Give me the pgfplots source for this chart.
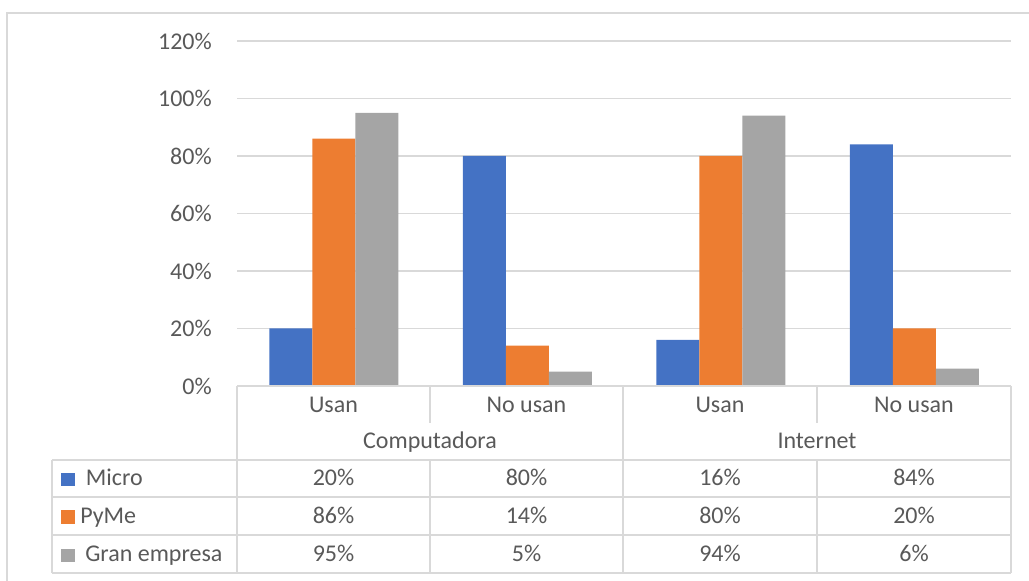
\documentclass[border=0pt]{standalone}
\usepackage{pgfplots}
\pgfplotsset{compat=1.18}
\usepackage{fontspec}
\setmainfont{Carlito}

\definecolor{micro}{HTML}{4472C4}
\definecolor{pyme}{HTML}{ED7D31}
\definecolor{gran}{HTML}{A5A5A5}
\definecolor{txt}{HTML}{595959}
\definecolor{rule}{HTML}{D9D9D9}
\newcommand\lbl{\fontsize{18}{21.6}\selectfont}

\begin{document}
\begin{tikzpicture}
\useasboundingbox (0,0) rectangle (771.75pt,435.75pt);

\begin{axis}[
  at={(177.75pt,146.25pt)}, anchor=south west,
  scale only axis, width=580.5pt, height=258.75pt,
  xmin=0, xmax=4, ymin=0, ymax=120,
  ybar=0pt, bar width=32.25pt,
  ytick={0,20,...,120},
  yticklabel={\pgfmathprintnumber{\tick}\%},
  xtick=\empty,
  axis line style={draw=none},
  major tick length=0pt,
  ymajorgrids, grid style={rule, line width=1.1pt},
  tick label style={font=\lbl, text=txt},
  yticklabel style={inner sep=0pt, xshift=-18.75pt},
  /pgf/number format/assume math mode=true,
  clip=false,
]
% Computadora (Usan, No usan), Internet (Usan, No usan)
\addplot[draw=none, fill=micro] coordinates {(0.5,20) (1.5,80) (2.5,16) (3.5,84)};
\addplot[draw=none, fill=pyme]  coordinates {(0.5,86) (1.5,14) (2.5,80) (3.5,20)};
\addplot[draw=none, fill=gran]  coordinates {(0.5,95) (1.5,5)  (2.5,94) (3.5,6)};
\end{axis}

% data table below the plot, in pixel units measured from the top-left corner
\begin{scope}[x=0.75pt, y=-0.75pt, yshift=435.75pt]
  % outer frame
  \draw[rule, line width=1.5pt] (7,581) -- (7,12.6) -- (1029,12.6);
  % table rules
  \begin{scope}[rule, line width=1.5pt]
    \draw (237,386) -- (1011,386);
    \foreach \yy in {460,497,535,573} \draw (52,\yy) -- (1011,\yy);
    \foreach \xx in {237,623,1011} \draw (\xx,386) -- (\xx,573);
    \foreach \xx in {430,817} {
      \draw (\xx,386) -- (\xx,423);
      \draw (\xx,460) -- (\xx,573);
    }
    \draw (52,460) -- (52,573);
  \end{scope}
  % column headers
  \begin{scope}[every node/.style={font=\lbl, text=txt, anchor=base, inner sep=0pt}]
    \node at (333.5,412.7) {Usan};
    \node at (526.5,412.7) {No usan};
    \node at (720,412.7) {Usan};
    \node at (914,412.7) {No usan};
    \node at (430,449) {Computadora};
    \node at (817,449) {Internet};
    % values
    \node at (333.5,486) {20\%}; \node at (526.5,486) {80\%};
    \node at (720,486) {16\%};   \node at (914,486) {84\%};
    \node at (333.5,524) {86\%}; \node at (526.5,524) {14\%};
    \node at (720,524) {80\%};   \node at (914,524) {20\%};
    \node at (333.5,562) {95\%}; \node at (526.5,562) {5\%};
    \node at (720,562) {94\%};   \node at (914,562) {6\%};
    % series names
    \node[anchor=base west] at (85.7,486) {Micro};
    \node[anchor=base west] at (80,524) {PyMe};
    \node[anchor=base west] at (85,562) {Gran empresa};
  \end{scope}
  % legend keys
  \fill[micro] (61,473) rectangle (74.5,486);
  \fill[pyme]  (61,510.5) rectangle (74.5,524);
  \fill[gran]  (61,549) rectangle (74.5,562.5);
\end{scope}
\end{tikzpicture}
\end{document}
